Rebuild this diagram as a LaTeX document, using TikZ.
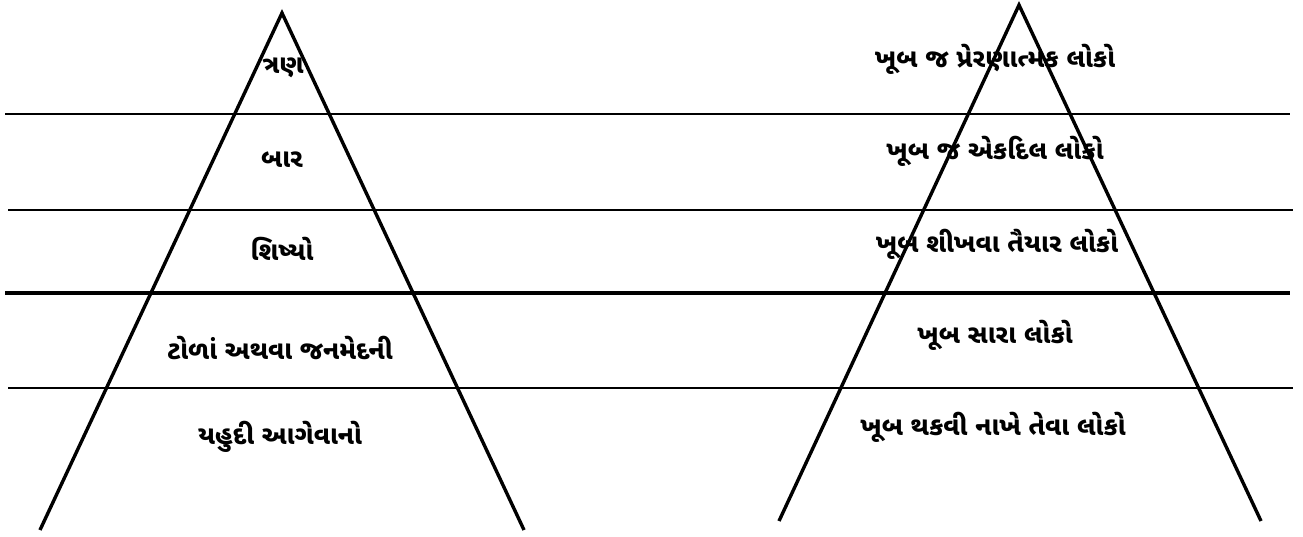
\documentclass[tikz,border=0pt]{standalone}
\usepackage{fontspec}
\newfontfamily\guj[Script=Gujarati]{Noto Sans Gujarati UI}
\tikzset{
  lbl/.style={font=\guj\bfseries\fontsize{26}{30}\selectfont, inner sep=0pt, anchor=center},
  thinline/.style={line width=1.6pt},
  thickline/.style={line width=3.4pt},
  leg/.style={line width=3.4pt}
}
\begin{document}
\begin{tikzpicture}[x=1pt,y=-1pt]
\useasboundingbox (0,0) rectangle (1303,536);
% labels left
\node[lbl] (l1) at (283,68) {ત્રણ};
\node[lbl] (l2) at (282,160) {બાર};
\node[lbl] (l3) at (282,249) {શિષ્યો};
\node[lbl] (l4) at (280,348) {ટોળાં અથવા જનમેદની};
\node[lbl] (l5) at (280,437) {યહુદી આગેવાનો};
% labels right
\node[lbl] (r1) at (995,59) {ખૂબ જ પ્રેરણાત્મક લોકો};
\node[lbl] (r2) at (995,151) {ખૂબ જ એકદિલ લોકો};
\node[lbl] (r3) at (997,244) {ખૂબ શીખવા તૈયાર લોકો};
\node[lbl] (r4) at (995,335) {ખૂબ સારા લોકો};
\node[lbl] (r5) at (993,427) {ખૂબ થકવી નાખે તેવા લોકો};
% horizontal lines
\coordinate (h1a) at (5,114);   \coordinate (h1b) at (1290,114);
\coordinate (h2a) at (8,210);   \coordinate (h2b) at (1293,210);
\coordinate (h3a) at (5,293);   \coordinate (h3b) at (1290,293);
\coordinate (h4a) at (8,388);   \coordinate (h4b) at (1293,388);
\draw[thinline] (h1a) -- (h1b);
\draw[thinline] (h2a) -- (h2b);
\draw[thickline] (h3a) -- (h3b);
\draw[thinline] (h4a) -- (h4b);
% triangles
\coordinate (LA) at (282,13);
\coordinate (LL) at (40,530);
\coordinate (LR) at (524,530);
\coordinate (RA) at (1019,5);
\coordinate (RL) at (779,521);
\coordinate (RR) at (1261,521);
\draw[leg] (LL) -- (LA) -- (LR);
\draw[leg] (RL) -- (RA) -- (RR);
\end{tikzpicture}
\end{document}
